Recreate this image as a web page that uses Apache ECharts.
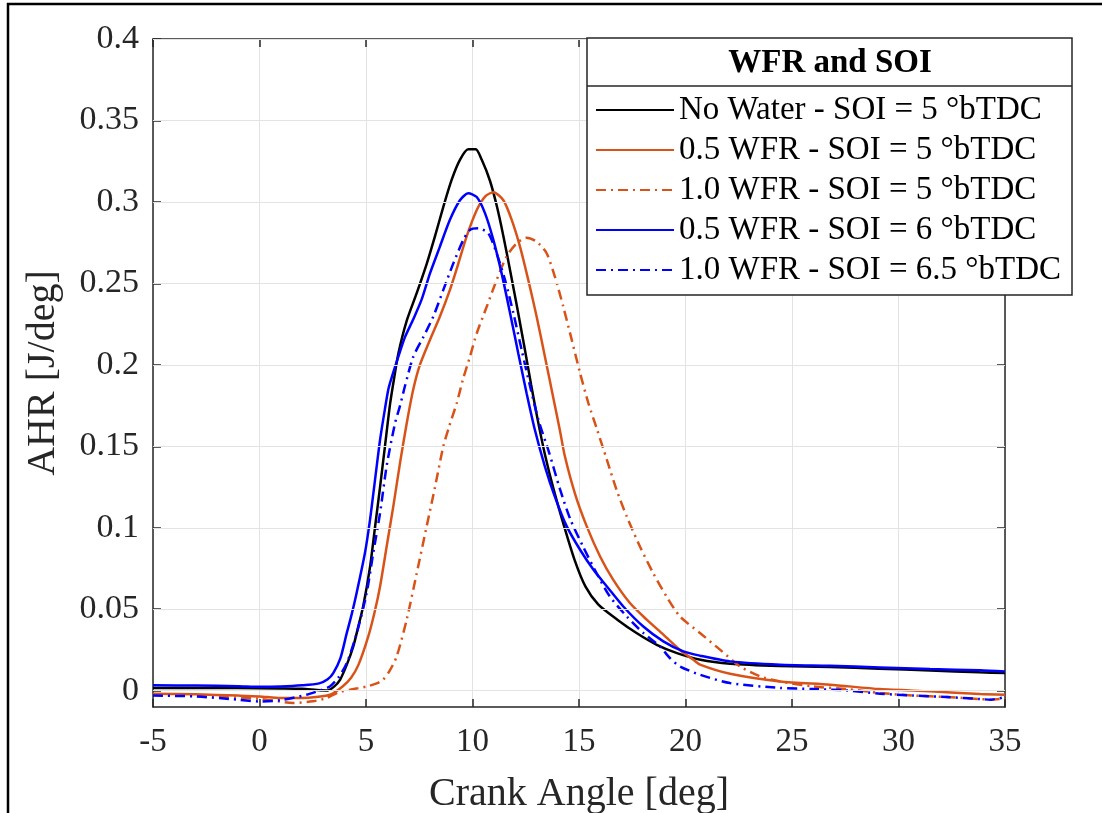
<!DOCTYPE html>
<html>
<head>
<meta charset="utf-8">
<script src="https://cdn.jsdelivr.net/npm/echarts@6/dist/echarts.min.js"></script>
<style>
html,body{margin:0;padding:0;background:#fff;}
#chart{width:1102px;height:813px;}
</style>
</head>
<body>
<div id="chart"></div>
<script>
// ---- Data (crank angle [deg], AHR [J/deg]) ----
const seriesNames = [
  'No Water - SOI = 5 °bTDC',
  '0.5 WFR - SOI = 5 °bTDC',
  '1.0 WFR - SOI = 5 °bTDC',
  '0.5 WFR - SOI = 6 °bTDC',
  '1.0 WFR - SOI = 6.5 °bTDC'
];
const noWater = [[-5,0.0017],[-3,0.0017],[-1,0.0016],[1,0.0014],[2,0.0012],[2.7,0.0005],[3.2,0.0002],[3.5,0.0025],[3.78,0.0067],[4.1,0.016],[4.4,0.027],[4.65,0.04],[4.87,0.052],[5.19,0.076],[5.42,0.1],[5.66,0.125],[5.89,0.15],[6.13,0.176],[6.31,0.191],[6.52,0.207],[6.91,0.227],[7.38,0.244],[7.85,0.262],[8.24,0.279],[8.63,0.297],[9.02,0.3135],[9.41,0.3258],[9.8,0.3323],[10.15,0.3323],[10.43,0.326],[10.82,0.313],[11.15,0.297],[11.45,0.279],[11.78,0.257],[12.1,0.235],[12.45,0.21],[12.75,0.188],[13.05,0.167],[13.4,0.145],[13.8,0.124],[14.3,0.101],[14.8,0.08],[15.3,0.064],[15.9,0.053],[16.8,0.0436],[17.7,0.0354],[18.65,0.0282],[19.6,0.0231],[20.7,0.019],[22.1,0.0166],[24.4,0.0152],[26.8,0.0145],[29.1,0.0135],[31.5,0.0124],[33.8,0.0113],[35,0.0108]];
const wfr05soi5 = [[-5,-0.0018],[-3,-0.0022],[-1,-0.003],[0,-0.0035],[1,-0.0045],[2,-0.0045],[3.3,-0.0025],[3.9,0.0026],[4.3,0.008],[4.65,0.016],[5.1,0.033],[5.4,0.048],[5.66,0.064],[5.97,0.0885],[6.28,0.113],[6.6,0.14],[6.91,0.164],[7.22,0.185],[7.53,0.2],[8.0,0.2153],[8.47,0.2297],[8.94,0.246],[9.33,0.262],[9.73,0.279],[10.2,0.295],[10.59,0.3033],[10.98,0.306],[11.45,0.301],[11.84,0.289],[12.23,0.2726],[12.62,0.252],[13.01,0.2297],[13.4,0.205],[13.79,0.18],[14.1,0.16],[14.34,0.1437],[14.81,0.121],[15.36,0.101],[15.99,0.0824],[16.61,0.068],[17.39,0.0538],[18.18,0.0436],[18.96,0.0344],[19.74,0.025],[20.37,0.019],[20.68,0.016],[22.09,0.0104],[24.44,0.0057],[26.78,0.0037],[29.13,0.001],[31.48,-0.0004],[33.83,-0.002],[35,-0.0025]];
const wfr10soi5 = [[-5,-0.0025],[-2.5,-0.0035],[0,-0.005],[1.58,-0.0075],[2.5,-0.0065],[3.15,-0.0045],[3.7,-0.001],[4.25,0.0006],[5.03,0.0026],[5.5,0.0045],[5.8,0.0067],[6.1,0.012],[6.44,0.021],[6.91,0.0436],[7.38,0.072],[7.85,0.101],[8.24,0.125],[8.63,0.15],[8.9,0.162],[9.26,0.1765],[9.55,0.191],[9.88,0.205],[10.2,0.2194],[10.67,0.2358],[11.13,0.252],[11.6,0.2665],[12.08,0.2747],[12.54,0.278],[13.01,0.2757],[13.48,0.2685],[13.87,0.254],[14.26,0.2358],[14.66,0.2153],[15.05,0.195],[15.44,0.1765],[15.83,0.161],[16.31,0.1417],[16.77,0.123],[17.24,0.107],[17.86,0.0885],[18.49,0.072],[19.11,0.0578],[19.74,0.0456],[20.68,0.0354],[21.62,0.0252],[22.56,0.0149],[23.5,0.0088],[24.44,0.0057],[26.0,0.0026],[27.57,0.001],[29.13,-0.0014],[30.7,-0.003],[32.27,-0.0039],[33.83,-0.0051],[34.3,-0.0055],[35,-0.0047]];
const wfr05soi6 = [[-5,0.0033],[-3,0.0032],[-1,0.0028],[0,0.0024],[1,0.0026],[2,0.0033],[2.8,0.0045],[3.2,0.007],[3.47,0.011],[3.8,0.02],[4.09,0.035],[4.33,0.047],[4.56,0.06],[4.95,0.0845],[5.19,0.105],[5.42,0.129],[5.66,0.154],[5.89,0.173],[6.05,0.185],[6.2,0.192],[6.52,0.205],[6.83,0.217],[7.22,0.228],[7.61,0.24],[8.0,0.256],[8.47,0.2726],[8.94,0.289],[9.41,0.301],[9.8,0.3053],[10.2,0.303],[10.59,0.293],[10.98,0.2767],[11.37,0.256],[11.76,0.232],[12.15,0.207],[12.54,0.1826],[12.93,0.16],[13.4,0.1376],[13.87,0.119],[14.42,0.101],[15.05,0.0865],[15.68,0.0742],[16.31,0.064],[17.08,0.0517],[18.02,0.0394],[18.96,0.0303],[19.9,0.0241],[20.68,0.0215],[22.09,0.018],[24.44,0.016],[26.78,0.0153],[29.13,0.0143],[31.48,0.0133],[33.83,0.0125],[35,0.0118]];
const wfr10soi65 = [[-5,-0.003],[-3,-0.0035],[-1,-0.0055],[0,-0.0066],[1,-0.0058],[2.2,-0.0025],[2.8,0.0],[3.3,0.0026],[3.7,0.008],[4.1,0.017],[4.56,0.035],[5.03,0.06],[5.34,0.0845],[5.66,0.109],[5.97,0.138],[6.36,0.164],[6.6,0.175],[6.83,0.187],[7.22,0.205],[7.69,0.217],[8.16,0.2297],[8.63,0.246],[9.1,0.2623],[9.57,0.2767],[9.88,0.2828],[10.27,0.2838],[10.74,0.2808],[11.13,0.2685],[11.53,0.252],[11.92,0.2317],[12.31,0.209],[12.7,0.187],[13.1,0.166],[13.6,0.146],[14.1,0.124],[14.6,0.105],[15.19,0.0885],[15.83,0.072],[16.45,0.0578],[17.24,0.0456],[18.02,0.0354],[18.8,0.0272],[19.27,0.02],[19.74,0.0149],[20.68,0.0098],[22.09,0.0047],[24.44,0.0017],[26.0,0.001],[27.57,0.0002],[29.13,-0.0018],[30.7,-0.003],[32.27,-0.0039],[33.83,-0.0051],[34.3,-0.0055],[35,-0.0039]];
const yTicks = [0, 0.05, 0.1, 0.15, 0.2, 0.25, 0.3, 0.35, 0.4];
const xTitle = 'Crank Angle [deg]';
const yTitle = 'AHR [J/deg]';
const legendTitle = 'WFR and SOI';

// ---- Styling ----
const FONT = 'Liberation Serif';
const AX = '#262626';
const GRIDC = '#e3e3e3';
const ORANGE = '#D95319';
const BLUE = '#0000FF';
const DASHDOT = [10, 5, 2, 5];

const chart = echarts.init(document.getElementById('chart'), null, {renderer: 'canvas'});

function lineSeries(name, data, color, dash) {
  return {
    name: name, type: 'line', data: data, xAxisIndex: 0, yAxisIndex: 0,
    symbol: 'none', smooth: 0.25, z: 3,
    lineStyle: {color: color, width: 2.5, type: dash || 'solid'},
    itemStyle: {color: color},
    emphasis: {disabled: true}
  };
}

const commonX = {
  type: 'value', min: -5, max: 35, interval: 5,
  axisLine: {show: true, onZero: false, lineStyle: {color: AX, width: 1.5}},
  axisTick: {show: true, inside: true, length: 8, lineStyle: {color: AX, width: 1.5}}
};
const commonY = {
  type: 'value', min: -0.01, max: 0.4,
  axisLine: {show: true, onZero: false, lineStyle: {color: AX, width: 1.5}},
  axisTick: {show: true, inside: true, length: 8, customValues: yTicks, lineStyle: {color: AX, width: 1.5}},
  splitLine: {show: false}
};

const option = {
  animation: false,
  backgroundColor: '#fff',
  textStyle: {fontFamily: FONT},
  grid: {left: 153, right: 97, top: 39, bottom: 106, containLabel: false, outerBoundsMode: 'none'},
  xAxis: [
    Object.assign({}, commonX, {
      position: 'bottom',
      axisLabel: {show: true, fontFamily: FONT, fontSize: 33, color: AX, margin: 19},
      splitLine: {show: true, lineStyle: {color: GRIDC, width: 1}},
      name: xTitle, nameLocation: 'middle', nameGap: 67,
      nameTextStyle: {fontFamily: FONT, fontSize: 40, color: AX}
    }),
    Object.assign({}, commonX, {
      position: 'top',
      axisLabel: {show: false},
      splitLine: {show: false}
    })
  ],
  yAxis: [
    Object.assign({}, commonY, {
      position: 'left',
      axisLabel: {show: true, customValues: yTicks, fontFamily: FONT, fontSize: 34, color: AX, margin: 14},
      name: yTitle, nameLocation: 'middle', nameGap: 90, nameRotate: 90,
      nameTextStyle: {fontFamily: FONT, fontSize: 40, color: AX}
    }),
    Object.assign({}, commonY, {
      position: 'right',
      axisLabel: {show: false}
    })
  ],
  legend: {
    orient: 'vertical', left: 595, top: 93, z: 20,
    itemWidth: 78, itemHeight: 2, itemGap: 6,
    padding: 0,
    itemStyle: {opacity: 0, borderWidth: 0},
    textStyle: {fontFamily: FONT, fontSize: 33, lineHeight: 34, color: '#000'},
    data: seriesNames,
    selectedMode: false
  },
  graphic: [
    {type: 'polyline', z: 30, silent: true, shape: {points: [[8, 813], [8, 4], [1102, 4]]}, style: {stroke: '#000', lineWidth: 2.5, fill: null}},
    {type: 'rect', z: 10, silent: true, shape: {x: 587, y: 38, width: 485, height: 257}, style: {fill: '#fff', stroke: AX, lineWidth: 1.5}},
    {type: 'line', z: 11, silent: true, shape: {x1: 587, y1: 86, x2: 1072, y2: 86}, style: {stroke: AX, lineWidth: 1.5}},
    {type: 'text', z: 11, silent: true, x: 830, y: 63, style: {text: legendTitle, font: 'bold 33px "Liberation Serif"', fill: '#000', align: 'center', verticalAlign: 'middle'}}
  ],
  series: [
    {
      name: 'grid', type: 'line', data: [], z: 1, silent: true, xAxisIndex: 0, yAxisIndex: 0,
      markLine: {
        silent: true, symbol: ['none', 'none'], label: {show: false},
        lineStyle: {color: GRIDC, width: 1, type: 'solid'},
        emphasis: {disabled: true},
        data: yTicks.map(v => ({yAxis: v}))
      }
    },
    lineSeries(seriesNames[0], noWater, '#000000'),
    lineSeries(seriesNames[1], wfr05soi5, ORANGE),
    lineSeries(seriesNames[2], wfr10soi5, ORANGE, DASHDOT),
    lineSeries(seriesNames[3], wfr05soi6, BLUE),
    lineSeries(seriesNames[4], wfr10soi65, BLUE, DASHDOT)
  ]
};
chart.setOption(option);
</script>
</body>
</html>
